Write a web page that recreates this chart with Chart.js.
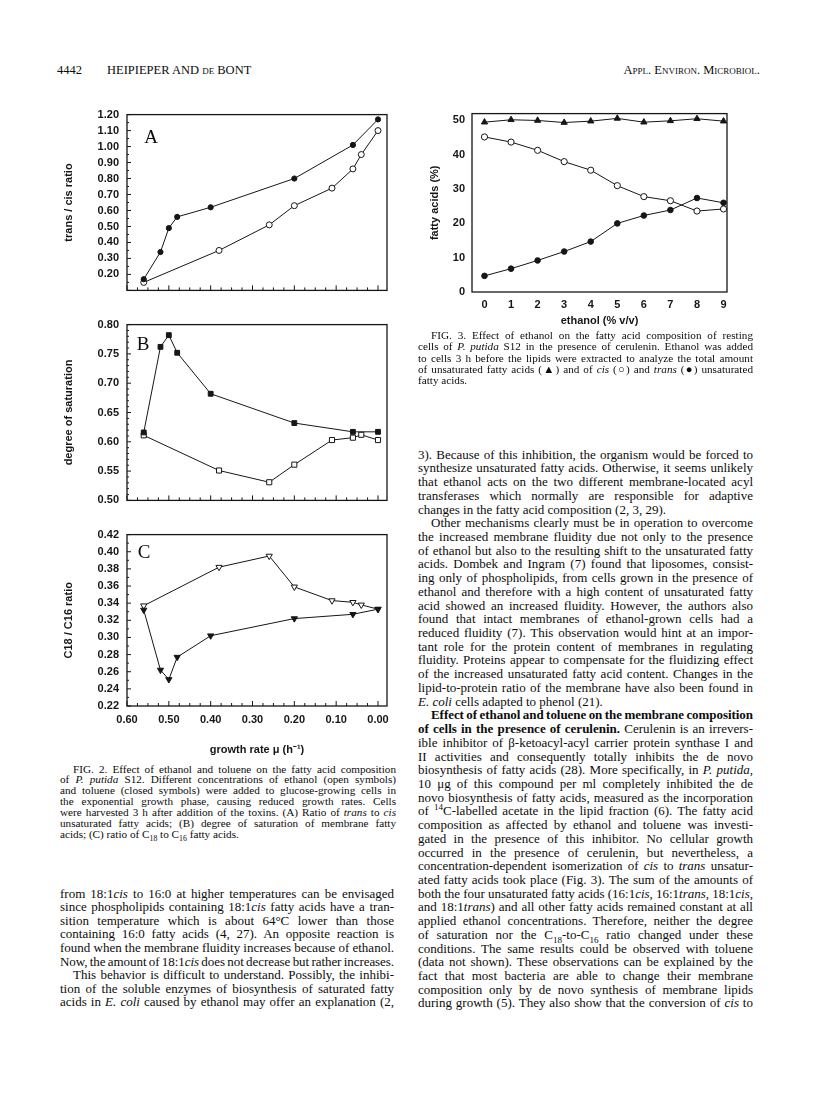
<!DOCTYPE html>
<html>
<head>
<meta charset="utf-8">
<script src="https://cdn.jsdelivr.net/npm/chart.js@4.4.0/dist/chart.umd.min.js"></script>
<style>
  body { margin: 0; background: #fff; }
  #page { position: relative; width: 816px; height: 1094px; overflow: hidden; color: #0c0c0c;
          font-family: "Liberation Serif", "Times New Roman", serif; }
  canvas { position: absolute; }
  .col { position: absolute; }
  .ln { white-space: nowrap; text-align: justify; text-align-last: justify; overflow: visible; }
  .ln.last { text-align-last: left; }
  .ind { text-indent: 13px; }
  .body .ln { font-size: 13px; }
  .cap .ln { font-size: 11.2px; }
  sub, sup { font-size: 0.7em; line-height: 0; }
  .letter { position: absolute; font-size: 19px; transform: translate(-50%, -50%); }
  .hdr { position: absolute; top: 63px; font-size: 12.5px; }
</style>
</head>
<body>
<div id="page">
  <div class="hdr" style="left:57px">4442</div>
  <div class="hdr" style="left:107px">HEIPIEPER AND <span style="font-variant:small-caps">de</span> BONT</div>
  <div class="hdr" style="right:56px; font-variant:small-caps">Appl. Environ. Microbiol.</div>

  <canvas id="chartA" width="340" height="205" style="left:60px; top:100px"></canvas>
  <canvas id="chartB" width="340" height="205" style="left:60px; top:310px"></canvas>
  <canvas id="chartC" width="340" height="237" style="left:60px; top:520px"></canvas>
  <canvas id="chart3" width="340" height="235" style="left:420px; top:100px"></canvas>

  <div class="letter" style="left:151px; top:137px">A</div>
  <div class="letter" style="left:143px; top:344px">B</div>
  <div class="letter" style="left:144px; top:552px">C</div>

  <div class="col cap" id="cap3" style="left:418px; width:335px; top:330px">
    <div class="ln ind">FIG. 3. Effect of ethanol on the fatty acid composition of resting</div>
    <div class="ln">cells of <i>P. putida</i> S12 in the presence of cerulenin. Ethanol was added</div>
    <div class="ln">to cells 3 h before the lipids were extracted to analyze the total amount</div>
    <div class="ln">of unsaturated fatty acids (▲) and of <i>cis</i> (○) and <i>trans</i> (●) unsaturated</div>
    <div class="ln last">fatty acids.</div>
  </div>

  <div class="col cap" id="cap2" style="left:60px; width:336px; top:763.5px">
    <div class="ln ind">FIG. 2. Effect of ethanol and toluene on the fatty acid composition</div>
    <div class="ln">of <i>P. putida</i> S12. Different concentrations of ethanol (open symbols)</div>
    <div class="ln">and toluene (closed symbols) were added to glucose-growing cells in</div>
    <div class="ln">the exponential growth phase, causing reduced growth rates. Cells</div>
    <div class="ln">were harvested 3 h after addition of the toxins. (A) Ratio of <i>trans</i> to <i>cis</i></div>
    <div class="ln">unsaturated fatty acids; (B) degree of saturation of membrane fatty</div>
    <div class="ln last">acids; (C) ratio of C<sub>18</sub> to C<sub>16</sub> fatty acids.</div>
  </div>

  <div class="col body" id="bodyL" style="left:60px; width:334px; top:886.8px">
    <div class="ln">from 18:1<i>cis</i> to 16:0 at higher temperatures can be envisaged</div>
    <div class="ln">since phospholipids containing 18:1<i>cis</i> fatty acids have a tran-</div>
    <div class="ln">sition temperature which is about 64°C lower than those</div>
    <div class="ln">containing 16:0 fatty acids (4, 27). An opposite reaction is</div>
    <div class="ln">found when the membrane fluidity increases because of ethanol.</div>
    <div class="ln">Now, the amount of 18:1<i>cis</i> does not decrease but rather increases.</div>
    <div class="ln ind">This behavior is difficult to understand. Possibly, the inhibi-</div>
    <div class="ln">tion of the soluble enzymes of biosynthesis of saturated fatty</div>
    <div class="ln">acids in <i>E. coli</i> caused by ethanol may offer an explanation (2,</div>
  </div>

  <div class="col body" id="bodyR" style="left:418px; width:335px; top:447.7px">
    <div class="ln">3). Because of this inhibition, the organism would be forced to</div>
    <div class="ln">synthesize unsaturated fatty acids. Otherwise, it seems unlikely</div>
    <div class="ln">that ethanol acts on the two different membrane-located acyl</div>
    <div class="ln">transferases which normally are responsible for adaptive</div>
    <div class="ln last">changes in the fatty acid composition (2, 3, 29).</div>
    <div class="ln ind">Other mechanisms clearly must be in operation to overcome</div>
    <div class="ln">the increased membrane fluidity due not only to the presence</div>
    <div class="ln">of ethanol but also to the resulting shift to the unsaturated fatty</div>
    <div class="ln">acids. Dombek and Ingram (7) found that liposomes, consist-</div>
    <div class="ln">ing only of phospholipids, from cells grown in the presence of</div>
    <div class="ln">ethanol and therefore with a high content of unsaturated fatty</div>
    <div class="ln">acid showed an increased fluidity. However, the authors also</div>
    <div class="ln">found that intact membranes of ethanol-grown cells had a</div>
    <div class="ln">reduced fluidity (7). This observation would hint at an impor-</div>
    <div class="ln">tant role for the protein content of membranes in regulating</div>
    <div class="ln">fluidity. Proteins appear to compensate for the fluidizing effect</div>
    <div class="ln">of the increased unsaturated fatty acid content. Changes in the</div>
    <div class="ln">lipid-to-protein ratio of the membrane have also been found in</div>
    <div class="ln last"><i>E. coli</i> cells adapted to phenol (21).</div>
    <div class="ln ind"><b>Effect of ethanol and toluene on the membrane composition</b></div>
    <div class="ln"><b>of cells in the presence of cerulenin.</b> Cerulenin is an irrevers-</div>
    <div class="ln">ible inhibitor of β-ketoacyl-acyl carrier protein synthase I and</div>
    <div class="ln">II activities and consequently totally inhibits the de novo</div>
    <div class="ln">biosynthesis of fatty acids (28). More specifically, in <i>P. putida</i>,</div>
    <div class="ln">10 μg of this compound per ml completely inhibited the de</div>
    <div class="ln">novo biosynthesis of fatty acids, measured as the incorporation</div>
    <div class="ln">of <sup>14</sup>C-labelled acetate in the lipid fraction (6). The fatty acid</div>
    <div class="ln">composition as affected by ethanol and toluene was investi-</div>
    <div class="ln">gated in the presence of this inhibitor. No cellular growth</div>
    <div class="ln">occurred in the presence of cerulenin, but nevertheless, a</div>
    <div class="ln">concentration-dependent isomerization of <i>cis</i> to <i>trans</i> unsatur-</div>
    <div class="ln">ated fatty acids took place (Fig. 3). The sum of the amounts of</div>
    <div class="ln">both the four unsaturated fatty acids (16:1<i>cis</i>, 16:1<i>trans</i>, 18:1<i>cis</i>,</div>
    <div class="ln">and 18:1<i>trans</i>) and all other fatty acids remained constant at all</div>
    <div class="ln">applied ethanol concentrations. Therefore, neither the degree</div>
    <div class="ln">of saturation nor the C<sub>18</sub>-to-C<sub>16</sub> ratio changed under these</div>
    <div class="ln">conditions. The same results could be observed with toluene</div>
    <div class="ln">(data not shown). These observations can be explained by the</div>
    <div class="ln">fact that most bacteria are able to change their membrane</div>
    <div class="ln">composition only by de novo synthesis of membrane lipids</div>
    <div class="ln">during growth (5). They also show that the conversion of <i>cis</i> to</div>
  </div>
</div>

<script>
// growth rates (h-1) at which the cells were sampled
const GROWTH_ETHANOL = [0.56, 0.38, 0.26, 0.20, 0.11, 0.06, 0.04, 0.00];
const GROWTH_TOLUENE = [0.56, 0.52, 0.50, 0.48, 0.40, 0.20, 0.06, 0.00];

// A: trans / cis ratio
const TRANSCIS_ETHANOL = [0.15, 0.35, 0.51, 0.63, 0.74, 0.86, 0.95, 1.10];
const TRANSCIS_TOLUENE = [0.17, 0.34, 0.49, 0.56, 0.62, 0.80, 1.01, 1.17];
// B: degree of saturation
const SAT_ETHANOL = [0.611, 0.551, 0.531, 0.561, 0.603, 0.607, 0.612, 0.603];
const SAT_TOLUENE = [0.616, 0.762, 0.782, 0.752, 0.682, 0.632, 0.617, 0.617];
// C: C18 / C16 ratio
const C18C16_ETHANOL = [0.337, 0.382, 0.395, 0.359, 0.343, 0.341, 0.338, 0.333];
const C18C16_TOLUENE = [0.332, 0.262, 0.251, 0.277, 0.302, 0.322, 0.327, 0.333];

// Fig 3: fatty acids (%) vs ethanol (% v/v)
const ETHANOL_PCT = [0, 1, 2, 3, 4, 5, 6, 7, 8, 9];
const FA_TOTAL = [49.5, 50.2, 50.0, 49.4, 49.8, 50.6, 49.5, 49.9, 50.5, 49.8];
const FA_CIS   = [45.2, 43.7, 41.3, 38.0, 35.5, 31.0, 27.8, 26.6, 23.6, 24.2];
const FA_TRANS = [4.7, 6.8, 9.2, 11.8, 14.7, 20.0, 22.3, 23.9, 27.4, 26.0];

// tick labels
const GROWTH_TICKS = [0.60, 0.50, 0.40, 0.30, 0.20, 0.10, 0.00];
const A_TICKS = [0.20, 0.30, 0.40, 0.50, 0.60, 0.70, 0.80, 0.90, 1.00, 1.10, 1.20];
const B_TICKS = [0.50, 0.55, 0.60, 0.65, 0.70, 0.75, 0.80];
const C_TICKS = [0.22, 0.24, 0.26, 0.28, 0.30, 0.32, 0.34, 0.36, 0.38, 0.40, 0.42];
const FA_TICKS = [0, 10, 20, 30, 40, 50];

const INK = '#161616';
const SANS = '"Liberation Sans", Arial, sans-serif';
const TICK_FONT = {family: SANS, size: 11, weight: 'bold'};
const TITLE_FONT = {family: SANS, size: 11, weight: 'bold'};

// box round the plot area plus small inward tick marks
const frame = {
  id: 'frame',
  beforeDatasetsDraw(chart, args, o) {
    const {ctx, chartArea: a, scales} = chart;
    ctx.save();
    ctx.strokeStyle = INK;
    ctx.lineWidth = 1.3;
    ctx.strokeRect(a.left, a.top, a.right - a.left, a.bottom - a.top);
    ctx.lineWidth = 1;
    const mark = (x1, y1, x2, y2) => { ctx.beginPath(); ctx.moveTo(x1, y1); ctx.lineTo(x2, y2); ctx.stroke(); };
    const walk = (sc, step, fn) => {
      if (!step) return;
      const lo = Math.min(sc.min, sc.max), hi = Math.max(sc.min, sc.max);
      for (let v = Math.ceil(lo / step - 1e-6) * step; v <= hi + 1e-9; v += step) fn(sc.getPixelForValue(v), v);
    };
    const isMajor = (v, step) => Math.abs(v / step - Math.round(v / step)) < 1e-4;
    walk(scales.x, o.xMinor, (px, v) => {
      const len = isMajor(v, o.xMajor) ? 5 : 3;
      mark(px, a.bottom, px, a.bottom - len);
    });
    walk(scales.y, o.yMinor, (py, v) => {
      const len = isMajor(v, o.yMajor) ? 4 : 2;
      mark(a.left, py, a.left + len, py);
    });
    ctx.restore();
  }
};

function series(xs, ys, filled, shape, radius, rotation) {
  return {
    data: xs.map((x, i) => ({x: x, y: ys[i]})),
    showLine: true,
    borderColor: INK,
    borderWidth: 1,
    pointStyle: shape,
    pointRadius: radius,
    pointRotation: rotation || 0,
    pointBorderColor: INK,
    pointBorderWidth: 1,
    pointBackgroundColor: filled ? INK : '#fff'
  };
}

function yScale(min, max, ticks, digits, title, width, titlePad, labelPad) {
  return {
    type: 'linear', min: min, max: max,
    grid: {display: false, drawTicks: false}, border: {display: false},
    afterBuildTicks: s => { s.ticks = ticks.map(v => ({value: v})); },
    ticks: {font: TICK_FONT, color: INK, padding: labelPad, autoSkip: false,
            callback: v => Number(v).toFixed(digits)},
    title: {display: true, text: title, color: INK, font: TITLE_FONT,
            padding: {top: titlePad, bottom: 0}},
    afterFit: s => { s.width = width; }
  };
}

function xScale(min, max, ticks, digits, reverse, labels, title, height, labelPad, titlePad) {
  return {
    type: 'linear', min: min, max: max, reverse: reverse,
    grid: {display: false, drawTicks: false}, border: {display: false},
    afterBuildTicks: s => { s.ticks = ticks.map(v => ({value: v})); },
    ticks: {display: labels, font: TICK_FONT, color: INK, padding: labelPad, autoSkip: false,
            maxRotation: 0, callback: v => Number(v).toFixed(digits)},
    title: {display: !!title, text: title || '', color: INK, font: TITLE_FONT,
            padding: {top: 0, bottom: titlePad}},
    afterFit: s => { s.height = height; }
  };
}

function makeChart(id, datasets, scales, padding, tickOpts) {
  return new Chart(document.getElementById(id), {
    type: 'scatter',
    data: {datasets: datasets},
    options: {
      responsive: false, animation: false, devicePixelRatio: 1,
      layout: {padding: padding},
      plugins: {legend: {display: false}, tooltip: {enabled: false}, frame: tickOpts},
      scales: scales
    },
    plugins: [frame]
  });
}

const GX_MIN = -0.0215, GX_MAX = 0.60;

makeChart('chartA', [
  series(GROWTH_TOLUENE, TRANSCIS_TOLUENE, true, 'circle', 2.6),
  series(GROWTH_ETHANOL, TRANSCIS_ETHANOL, false, 'circle', 3)
], {
  x: xScale(GX_MIN, GX_MAX, GROWTH_TICKS, 2, true, false, null, 6, 0, 0),
  y: yScale(0.10, 1.20, A_TICKS, 2, 'trans / cis ratio', 67, 2.4, 8)
}, {top: 14, right: 13, left: 0, bottom: 0}, {xMajor: 0.1, xMinor: 0.025, yMajor: 0.1, yMinor: 0.05});

makeChart('chartB', [
  series(GROWTH_TOLUENE, SAT_TOLUENE, true, 'rect', 3.4),
  series(GROWTH_ETHANOL, SAT_ETHANOL, false, 'rect', 3.6)
], {
  x: xScale(GX_MIN, GX_MAX, GROWTH_TICKS, 2, true, false, null, 8, 0, 0),
  y: yScale(0.50, 0.80, B_TICKS, 2, 'degree of saturation', 67, 2.4, 8)
}, {top: 13, right: 13, left: 0, bottom: 0}, {xMajor: 0.1, xMinor: 0.025, yMajor: 0.05, yMinor: 0.01});

makeChart('chartC', [
  series(GROWTH_TOLUENE, C18C16_TOLUENE, true, 'triangle', 3.6, 180),
  series(GROWTH_ETHANOL, C18C16_ETHANOL, false, 'triangle', 3.6, 180)
], {
  x: xScale(GX_MIN, GX_MAX, GROWTH_TICKS, 2, true, true, 'growth rate μ (h⁻¹)', 51, 7, 0),
  y: yScale(0.22, 0.42, C_TICKS, 2, 'C18 / C16 ratio', 67, 2.4, 8)
}, {top: 10, right: 13, left: 0, bottom: 0}, {xMajor: 0.1, xMinor: 0.025, yMajor: 0.02, yMinor: 0.01});

makeChart('chart3', [
  series(ETHANOL_PCT, FA_TOTAL, true, 'triangle', 3.6),
  series(ETHANOL_PCT, FA_CIS, false, 'circle', 3.1),
  series(ETHANOL_PCT, FA_TRANS, true, 'circle', 2.8)
], {
  x: xScale(-0.47, 9.13, ETHANOL_PCT, 0, false, true, 'ethanol (% v/v)', 43, 6, 7),
  y: yScale(0, 52, FA_TICKS, 0, 'fatty acids (%)', 52, 8, 7)
}, {top: 13, right: 33, left: 0, bottom: 0}, {});

// text columns: fixed line pitch; lines that would overflow get slightly
// tighter word spacing first, then a little letter spacing
function setLines(id, pitch) {
  document.querySelectorAll('#' + id + ' .ln').forEach(el => {
    el.style.height = pitch + 'px';
    el.style.lineHeight = pitch + 'px';
    let over = el.scrollWidth - el.clientWidth;
    if (over <= 0) return;
    const gaps = (el.textContent.match(/ /g) || []).length || 1;
    el.style.wordSpacing = Math.max(-0.9, -(over + 1) / gaps) + 'px';
    over = el.scrollWidth - el.clientWidth;
    if (over > 0) el.style.letterSpacing = (-(over + 1) / el.textContent.length) + 'px';
  });
}
setLines('cap3', 11.25);
setLines('cap2', 10.95);
setLines('bodyL', 13.55);
setLines('bodyR', 13.725);
</script>
</body>
</html>
